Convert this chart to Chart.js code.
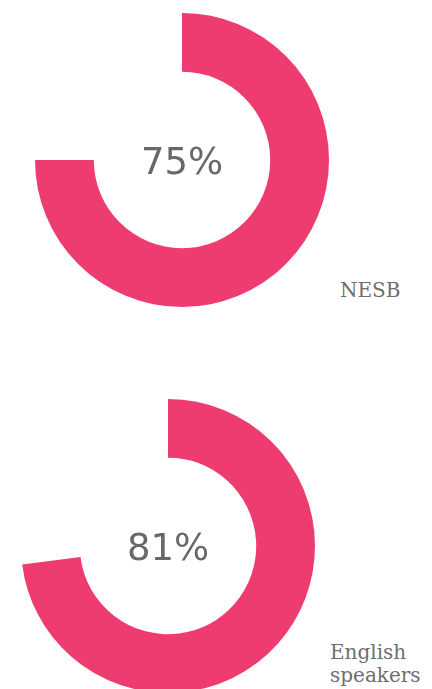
<!DOCTYPE html>
<html>
<head>
<meta charset="utf-8">
<script src="https://cdn.jsdelivr.net/npm/chart.js@4/dist/chart.umd.min.js"></script>
<style>
  html, body { margin: 0; padding: 0; background: #fff; overflow: hidden; width: 432px; height: 689px; }
  .box { position: absolute; width: 294px; height: 294px; }
  .lbl { position: absolute; font-family: "DejaVu Serif", serif; font-size: 20px; color: #6d6e71; line-height: 23px; }
</style>
</head>
<body>
<div class="box" style="left:35px; top:13px;"><canvas id="c1"></canvas></div>
<div class="box" style="left:21px; top:399px;"><canvas id="c2"></canvas></div>
<div class="lbl" style="left:340px; top:279px;">NESB</div>
<div class="lbl" style="left:330px; top:641px;">English<br>speakers</div>
<script>
// values as drawn in the picture (arc share) and the printed centre labels
var groups = ['NESB', 'English speakers'];
var arcValues = [75, 73];
var centreLabels = ['75%', '81%'];
var pink = '#ef3c70';

var centreText = {
  id: 'centreText',
  afterDraw: function(chart) {
    var ctx = chart.ctx;
    var a = chart.chartArea;
    ctx.save();
    ctx.font = '37px "DejaVu Sans", sans-serif';
    ctx.fillStyle = '#68686c';
    ctx.textAlign = 'center';
    ctx.textBaseline = 'middle';
    ctx.fillText(chart.options.plugins.centreText.text, (a.left + a.right) / 2, (a.top + a.bottom) / 2 + 4);
    ctx.restore();
  }
};

function makeDonut(id, i){
  return new Chart(document.getElementById(id), {
    type: 'doughnut',
    data: {
      labels: [groups[i], 'rest'],
      datasets: [{
        data: [arcValues[i], 100 - arcValues[i]],
        backgroundColor: [pink, 'rgba(0,0,0,0)'],
        borderWidth: 0,
        hoverOffset: 0
      }]
    },
    options: {
      responsive: true,
      maintainAspectRatio: false,
      animation: false,
      cutout: '60%',
      layout: { padding: 0 },
      plugins: {
        legend: { display: false },
        tooltip: { enabled: false },
        centreText: { text: centreLabels[i] }
      }
    },
    plugins: [centreText]
  });
}

makeDonut('c1', 0);
makeDonut('c2', 1);
</script>
</body>
</html>
